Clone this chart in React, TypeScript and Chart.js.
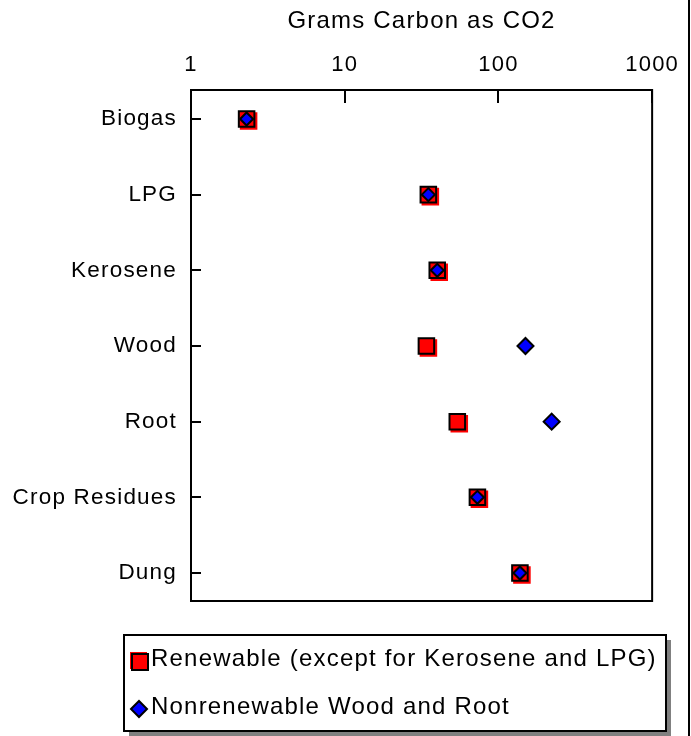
import React, { useEffect, useRef } from "react";
import { Chart, registerables } from "chart.js";

Chart.register(...registerables);

const categories = ["Biogas", "LPG", "Kerosene", "Wood", "Root", "Crop Residues", "Dung"];
const renewable = [2.3, 35, 40, 34, 54, 73, 138];
const nonrenewable = [2.3, 35, 40, 150, 222, 73, 138];
const xTicks = [1, 10, 100, 1000];
const axisTitle = "Grams Carbon as CO2";
const seriesLabels = ["Renewable (except for Kerosene and LPG)", "Nonrenewable Wood and Root"];

const FONT = "'Liberation Sans', Arial, sans-serif";
const LS = "1.2px";

const decor = {
  id: "decor",
  beforeInit(c: any) {
    c.ctx.letterSpacing = LS;
  },
  beforeUpdate(c: any) {
    c.ctx.letterSpacing = LS;
  },
  beforeLayout(c: any) {
    c.ctx.letterSpacing = LS;
  },
  beforeDraw(c: any) {
    c.ctx.letterSpacing = LS;
  },
  beforeDatasetDraw(c: any, args: any) {
    const ctx = c.ctx;
    ctx.save();
    const ds = c.data.datasets[args.index];
    if (ds.pointStyle === "rect") {
      ctx.shadowColor = "#ff0000";
      ctx.shadowOffsetX = 2;
      ctx.shadowOffsetY = 2;
      ctx.shadowBlur = 0;
    }
  },
  afterDatasetDraw(c: any) {
    c.ctx.restore();
  },
  afterDraw(c: any) {
    const ctx = c.ctx;
    const a = c.chartArea;
    const xs = c.scales.x;
    const ys = c.scales.y;
    ctx.save();
    ctx.strokeStyle = "#000";
    ctx.lineWidth = 2;
    ctx.strokeRect(a.left, a.top, a.right - a.left, a.bottom - a.top);
    // inside tick marks
    ctx.beginPath();
    xs.ticks.forEach((t: any) => {
      const px = Math.round(xs.getPixelForValue(t.value));
      ctx.moveTo(px, a.top);
      ctx.lineTo(px, a.top + 13);
    });
    ys.ticks.forEach((t: any) => {
      const py = Math.round(ys.getPixelForValue(t.value));
      ctx.moveTo(a.left, py);
      ctx.lineTo(a.left + 10, py);
    });
    ctx.stroke();

    // right frame line
    ctx.fillStyle = "#000";
    ctx.fillRect(688, 0, 2, c.height);

    // legend box
    const bx = 124;
    const by = a.bottom + 34;
    const bw = 542;
    const bh = 96;
    ctx.fillStyle = "#808080";
    ctx.fillRect(bx + 5, by + 5, bw, bh);
    ctx.fillStyle = "#ffffff";
    ctx.fillRect(bx, by, bw, bh);
    ctx.lineWidth = 2;
    ctx.strokeStyle = "#000";
    ctx.strokeRect(bx, by, bw, bh);

    ctx.font = `24px ${FONT}`;
    ctx.letterSpacing = LS;
    ctx.textAlign = "left";
    ctx.textBaseline = "alphabetic";
    c.data.datasets.forEach((ds: any, i: number) => {
      const baseY = by + 31 + i * 48;
      const cy = baseY - 5;
      if (ds.pointStyle === "rect") {
        ctx.fillStyle = "#ff0000";
        ctx.fillRect(bx + 6, cy - 9, 17, 17);
        ctx.lineWidth = 2;
        ctx.strokeStyle = "#000";
        ctx.strokeRect(bx + 8, cy - 7, 16, 16);
      } else {
        const r = 8;
        const mx = bx + 15;
        const my = cy;
        ctx.beginPath();
        ctx.moveTo(mx - r, my);
        ctx.lineTo(mx, my - r);
        ctx.lineTo(mx + r, my);
        ctx.lineTo(mx, my + r);
        ctx.closePath();
        ctx.fillStyle = "#0000ff";
        ctx.fill();
        ctx.lineWidth = 2;
        ctx.strokeStyle = "#000";
        ctx.stroke();
      }
      ctx.fillStyle = "#000";
      ctx.fillText(ds.label, bx + 27, baseY);
    });
    ctx.restore();
  },
};

export default function App() {
  const ref = useRef<HTMLCanvasElement>(null);

  useEffect(() => {
    const canvas = ref.current as HTMLCanvasElement;
    const chart = new Chart(canvas, {
      type: "scatter",
      data: {
        datasets: [
          {
            label: seriesLabels[0],
            data: categories.map((_, i) => ({ x: renewable[i], y: i })),
            pointStyle: "rect",
            pointRadius: 11,
            pointHoverRadius: 11,
            pointBackgroundColor: "#ff0000",
            pointBorderColor: "#000000",
            pointBorderWidth: 2,
            order: 1,
          } as any,
          {
            label: seriesLabels[1],
            data: categories.map((_, i) => ({ x: nonrenewable[i], y: i })),
            pointStyle: "rectRot",
            pointRadius: (ctx: any) =>
              nonrenewable[ctx.dataIndex] === renewable[ctx.dataIndex] ? 6.5 : 8,
            pointBackgroundColor: "#0000ff",
            pointBorderColor: "#000000",
            pointBorderWidth: 2,
            order: 0,
          } as any,
        ],
      },
      options: {
        animation: false,
        responsive: false,
        events: [],
        layout: { padding: { left: 0, top: 0, right: 38, bottom: 135 } },
        plugins: {
          legend: { display: false },
          tooltip: { enabled: false },
        },
        scales: {
          x: {
            type: "logarithmic",
            position: "top",
            min: 1,
            max: 1000,
            grid: { display: false, drawTicks: false },
            border: { display: false },
            afterBuildTicks: (s: any) => {
              s.ticks = xTicks.map((v) => ({ value: v }));
            },
            afterFit: (s: any) => {
              s.height = 90;
            },
            ticks: {
              callback: (v: any) => String(v),
              font: { size: 22, family: FONT },
              color: "#000",
              padding: 12,
              maxRotation: 0,
              autoSkip: false,
            },
            title: {
              display: true,
              text: axisTitle,
              font: { size: 24, family: FONT },
              color: "#000",
              padding: { top: 7, bottom: 0 },
            },
          } as any,
          y: {
            type: "linear",
            reverse: true,
            min: -0.383,
            max: 6.37,
            grid: { display: false, drawTicks: false },
            border: { display: false },
            afterBuildTicks: (s: any) => {
              s.ticks = categories.map((_, i) => ({ value: i }));
            },
            afterFit: (s: any) => {
              s.width = 191;
            },
            ticks: {
              callback: (v: any) => categories[v] ?? "",
              font: { size: 22.5, family: FONT },
              color: "#000",
              padding: 14,
              autoSkip: false,
            },
          } as any,
        },
      },
      plugins: [decor],
    });
    return () => chart.destroy();
  }, []);

  return (
    <div style={{ position: "absolute", left: 0, top: 0, width: 691, height: 736, background: "#fff" }}>
      <canvas ref={ref} width={691} height={736} style={{ display: "block" }} />
    </div>
  );
}
